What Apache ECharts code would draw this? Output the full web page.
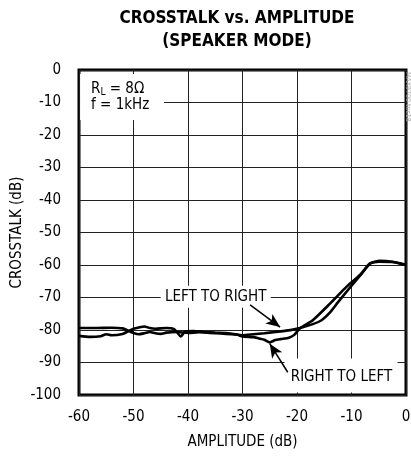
<!DOCTYPE html>
<html>
<head>
<meta charset="utf-8">
<script src="https://cdn.jsdelivr.net/npm/echarts@6/dist/echarts.min.js"></script>
<style>
  html,body{margin:0;padding:0;background:#fff;}
  #chart{width:411px;height:458px;}
</style>
</head>
<body>
<div id="chart"></div>
<script>
// amplitude (dB), crosstalk (dB)
const leftToRight = [
  [-60,-79.4],[-57,-79.4],[-54,-79.3],[-52,-79.5],[-51,-80.2],[-50,-80.9],[-49,-81.3],[-48,-81.0],
  [-47,-80.6],[-46,-81.0],[-45,-81.2],[-44,-80.8],[-42,-80.6],[-40,-80.9],[-38,-80.7],[-36,-80.9],
  [-34,-81.1],[-32,-81.3],[-30,-81.6],[-28,-81.3],[-26,-81.0],[-24,-80.6],[-22,-80.2],[-20.5,-79.8],
  [-19.4,-79.4],[-17.1,-78.2],[-15.5,-77.0],[-13.9,-74.5],[-12.5,-71.5],[-10.8,-68.0],[-8.4,-63.2],
  [-6.6,-59.6],[-5,-59.0],[-2.5,-59.1],[0,-59.9]
];
const rightToLeft = [
  [-60,-81.8],[-58,-82.1],[-56,-81.9],[-55,-81.3],[-54,-81.6],[-52,-81.2],[-51,-80.4],[-50,-79.6],
  [-49,-79.2],[-48,-78.9],[-47,-79.4],[-46,-79.6],[-44,-79.4],[-42.5,-79.8],[-41.3,-82.0],[-40.5,-80.4],
  [-39,-80.3],[-37,-80.6],[-35,-80.8],[-33,-80.9],[-31,-81.4],[-30,-82.0],[-28,-82.2],[-27,-82.6],
  [-26,-83.0],[-25,-83.8],[-24,-83.1],[-23,-82.8],[-21.5,-82.4],[-20.5,-81.5],[-19.4,-79.4],
  [-17.1,-77.0],[-13.9,-71.8],[-10.8,-66.5],[-8.4,-63.0],[-6.6,-59.5],[-4.8,-58.7],[-2.5,-59.0],
  [-0.6,-59.8],[0,-60.0]
];
const xTicks = [-60, -50, -40, -30, -20, -10, 0];
const yTicks = [0, -10, -20, -30, -40, -50, -60, -70, -80, -90, -100];

const narrow = "'DejaVu Sans Condensed', sans-serif";

let myChart = echarts.init(document.getElementById('chart'), null, {renderer: 'canvas'});

let option = {
  animation: false,
  title: {
    text: 'CROSSTALK vs. AMPLITUDE\n(SPEAKER MODE)',
    left: 237,
    top: 7,
    padding: 0,
    textAlign: 'center',
    textStyle: {
      fontFamily: narrow,
      fontWeight: 'bold',
      fontSize: 17,
      lineHeight: 23,
      color: '#000'
    }
  },
  grid: {
    left: 79, right: 5, top: 70, bottom: 63,
    containLabel: false,
    outerBoundsMode: 'none',
    show: true,
    borderColor: '#000',
    borderWidth: 3
  },
  xAxis: {
    type: 'value',
    min: -60, max: 0, interval: 10,
    name: 'AMPLITUDE (dB)',
    nameLocation: 'middle',
    nameGap: 40,
    nameMoveOverlap: false,
    nameTextStyle: {fontFamily: narrow, fontSize: 15, color: '#000'},
    axisLine: {show: false},
    axisTick: {show: false},
    axisLabel: {
      margin: 15, fontFamily: narrow, fontSize: 15, color: '#000',
      formatter: v => xTicks.includes(v) ? String(v) : ''
    },
    splitLine: {show: true, lineStyle: {color: '#222', width: 1}}
  },
  yAxis: {
    type: 'value',
    min: -100, max: 0, interval: 10,
    name: 'CROSSTALK (dB)',
    nameLocation: 'middle',
    nameGap: 54,
    nameMoveOverlap: false,
    nameTextStyle: {fontFamily: narrow, fontSize: 15, color: '#000'},
    axisLine: {show: false},
    axisTick: {show: false},
    axisLabel: {
      margin: 18, fontFamily: narrow, fontSize: 15, color: '#000',
      formatter: v => yTicks.includes(v) ? String(v) : ''
    },
    splitLine: {show: true, lineStyle: {color: '#222', width: 1}}
  },
  series: [
    {
      name: 'LEFT TO RIGHT',
      type: 'line',
      data: leftToRight,
      showSymbol: false,
      smooth: 0.2,
      lineStyle: {color: '#000', width: 2.6},
      markLine: {
        silent: true,
        symbol: ['none', 'arrow'],
        symbolSize: [9, 14],
        label: {show: false},
        lineStyle: {color: '#000', width: 1.5, type: 'solid'},
        data: [
          [{coord: [-28.6, -72.3]}, {coord: [-23.1, -79.1]}],
          [{coord: [-21.7, -93.0]}, {coord: [-25.0, -84.2]}]
        ]
      }
    },
    {
      name: 'RIGHT TO LEFT',
      type: 'line',
      data: rightToLeft,
      showSymbol: false,
      smooth: 0.2,
      lineStyle: {color: '#000', width: 2.6}
    }
  ]
};
myChart.setOption(option);

// text labels placed in data space
function box(pos, w, h, children) {
  let p = myChart.convertToPixel({gridIndex: 0}, pos);
  return {
    type: 'group', x: p[0], y: p[1],
    children: [{type: 'rect', shape: {x: 0, y: 0, width: w, height: h}, style: {fill: '#fff'}}].concat(children)
  };
}
let txt = {fontFamily: narrow, fontSize: 15, fill: '#000'};
myChart.setOption({
  graphic: [
    box([-59.8, -1.2], 84, 46, [
      {type: 'text', x: 11, y: 6, style: Object.assign({
        text: '{a|R}{s|L}{a| = 8Ω}',
        rich: {a: {fontFamily: narrow, fontSize: 15}, s: {fontFamily: narrow, fontSize: 10, padding: [8, 0, 0, 0]}}
      }, txt)},
      {type: 'text', x: 11, y: 31, style: Object.assign({text: 'f = 1kHz', textVerticalAlign: 'middle'}, txt)}
    ]),
    box([-45, -66.4], 110, 22, [
      {type: 'text', x: 55, y: 11, style: Object.assign({text: 'LEFT TO RIGHT', textAlign: 'center', textVerticalAlign: 'middle'}, txt)}
    ]),
    box([-22.3, -88.8], 113, 34, [
      {type: 'text', x: 57, y: 19, style: Object.assign({text: 'RIGHT TO LEFT', textAlign: 'center', textVerticalAlign: 'middle'}, txt)}
    ]),
    {
      type: 'text', x: 411, y: 72, rotation: -Math.PI / 2,
      style: {text: 'MAX9700 toc18', fontFamily: narrow, fontSize: 7, fill: '#aaa'}
    }
  ]
});

window.addEventListener('resize', function () {
  myChart.resize();
});
</script>
</body>
</html>
